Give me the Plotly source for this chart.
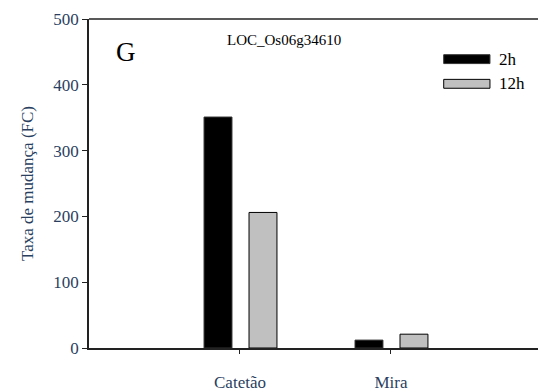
import plotly.graph_objects as go

# Fold change of LOC_Os06g34610 per cultivar and time point
cultivars = ["Catetão", "Mira"]
fc_2h = [351, 12]
fc_12h = [206, 21]
series_names = ["2h", "12h"]
y_ticks = [0, 100, 200, 300, 400, 500]

FONT = "Tinos"

fig = go.Figure()
fig.add_trace(go.Bar(
    x=cultivars, y=fc_2h, name=series_names[0],
    width=0.185, offset=-0.238,
    marker=dict(color="#000000", line=dict(color="#333333", width=1)),
))
fig.add_trace(go.Bar(
    x=cultivars, y=fc_12h, name=series_names[1],
    width=0.185, offset=0.06,
    marker=dict(color="#c0c0c0", line=dict(color="#000000", width=1)),
))

fig.update_layout(
    width=538, height=392,
    margin=dict(l=89, r=0, t=19, b=41),
    paper_bgcolor="white", plot_bgcolor="white",
    showlegend=False,
    barmode="overlay",
    xaxis=dict(
        range=[-1, 1.974],
        showgrid=False, zeroline=False,
        showline=True, linecolor="#222222", linewidth=1.5,
        ticks="outside", ticklen=4, tickcolor="#222222",
        ticklabelstandoff=14,
        tickfont=dict(family=FONT, size=17),
    ),
    yaxis=dict(
        range=[0, 500], tickvals=y_ticks,
        showgrid=False, zeroline=False,
        showline=True, linecolor="#222222", linewidth=1.5,
        ticks="outside", ticklen=5, tickcolor="#222222",
        tickfont=dict(family=FONT, size=17),
        title=dict(text="Taxa de mudança (FC)", font=dict(family=FONT, size=17)),
    ),
)

# top frame line
fig.add_shape(type="line", xref="paper", yref="paper", x0=0, x1=1.05, y0=1, y1=1,
              line=dict(color="#222222", width=1.5))

# panel letter and gene id
fig.add_annotation(text="G", xref="paper", yref="paper", x=0.083, y=0.90,
                   showarrow=False, font=dict(family=FONT, size=27, color="#000000"),
                   xanchor="center", yanchor="middle")
fig.add_annotation(text="LOC_Os06g34610", xref="paper", yref="paper", x=0.434, y=0.935,
                   showarrow=False, font=dict(family=FONT, size=15, color="#000000"),
                   xanchor="center", yanchor="middle")

# legend swatches drawn as boxes with labels
legend_rows = [(series_names[0], "#000000", "#333333", 0.878), (series_names[1], "#c0c0c0", "#000000", 0.803)]
for label, fill, edge, yc in legend_rows:
    fig.add_shape(type="rect", xref="paper", yref="paper",
                  x0=0.790, x1=0.893, y0=yc - 0.0135, y1=yc + 0.0135,
                  fillcolor=fill, line=dict(color=edge, width=1))
    fig.add_annotation(text=label, xref="paper", yref="paper", x=0.908, y=yc,
                       showarrow=False, xanchor="left", yanchor="middle",
                       font=dict(family=FONT, size=17, color="#000000"))

fig.write_html("out.html")
